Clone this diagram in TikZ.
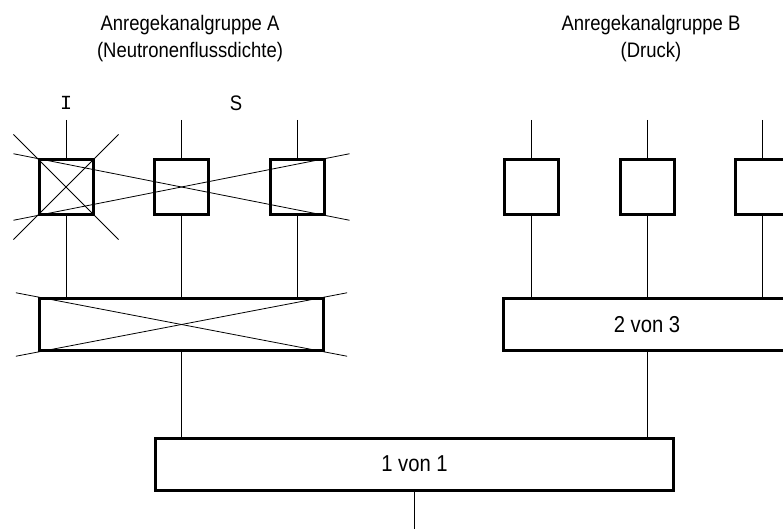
\documentclass[tikz,border=0pt]{standalone}
\usepackage{fontspec}
\setmainfont[FakeStretch=0.88]{Liberation Sans}
\newfontfamily\monofont{Liberation Mono}
\usetikzlibrary{positioning}

\begin{document}
\begin{tikzpicture}[x=1pt, y=-1pt, node distance=58.5pt,
    kanal/.style={draw, line width=3pt, minimum size=54pt, inner sep=0pt},
    logik/.style={draw, line width=3pt, minimum height=52pt, inner sep=0pt,
        font=\fontsize{23}{26}\selectfont},
    titel/.style={align=center, font=\fontsize{21}{27}\selectfont},
    leitung/.style={line width=0.8pt},
    kreuz/.style={line width=0.8pt}]
    \useasboundingbox (0,0) rectangle (783,529);
    \clip (0,0) rectangle (783,529);

    % Gruppe A
    \node[kanal] (a1) at (66,187) {};
    \node[kanal] (a2) [right=of a1] {};
    \node[kanal] (a3) [right=of a2] {};
    \node[logik, minimum width=284pt] (vA) [below=81.5pt of a2] {};

    % Gruppe B
    \node[kanal] (b1) at (531.5,187) {};
    \node[kanal] (b2) [right=of b1] {};
    \node[kanal] (b3) [right=of b2] {};
    \node[logik, minimum width=287pt] (vB) [below=81.5pt of b2] {2 von 3};

    \node[logik, minimum width=518pt] (vAB) at (414.5,464) {1 von 1};

    \node[titel] (titelA) at (190,39) {Anregekanalgruppe A\\(Neutronenflussdichte)};
    \node[titel] (titelB) at (651,39) {Anregekanalgruppe B\\(Druck)};
    \node[font=\fontsize{20}{24}\selectfont] (lblI) at (66,103) {\monofont I};
    \node[font=\fontsize{21}{24}\selectfont] (lblS) at (236,103) {S};

    % Eingaenge
    \foreach \n in {a1,a2,a3,b1,b2,b3} {
        \coordinate (ein\n) at (\n.north |- 0,120);
        \draw[leitung] (ein\n) -- (\n.north);
    }
    \foreach \n in {a1,a2,a3} \draw[leitung] (\n.south) -- (\n.south |- vA.north);
    \foreach \n in {b1,b2,b3} \draw[leitung] (\n.south) -- (\n.south |- vB.north);
    \draw[leitung] (vA.south) -- (vA.south |- vAB.north);
    \draw[leitung] (vB.south) -- (vB.south |- vAB.north);
    \coordinate (aus) at (vAB.south |- 0,530);
    \draw[leitung] (vAB.south) -- (aus);

    % ausgefallen
    \draw[kreuz, shorten <=-34pt, shorten >=-34pt] (a1.north west) -- (a1.south east);
    \draw[kreuz, shorten <=-34pt, shorten >=-34pt] (a1.south west) -- (a1.north east);
    \draw[kreuz, shorten <=-24.5pt, shorten >=-24.5pt] (a1.north west) -- (a3.south east);
    \draw[kreuz, shorten <=-24.5pt, shorten >=-24.5pt] (a1.south west) -- (a3.north east);
    \draw[kreuz, shorten <=-22.5pt, shorten >=-22.5pt] (vA.north west) -- (vA.south east);
    \draw[kreuz, shorten <=-22.5pt, shorten >=-22.5pt] (vA.south west) -- (vA.north east);
\end{tikzpicture}
\end{document}
